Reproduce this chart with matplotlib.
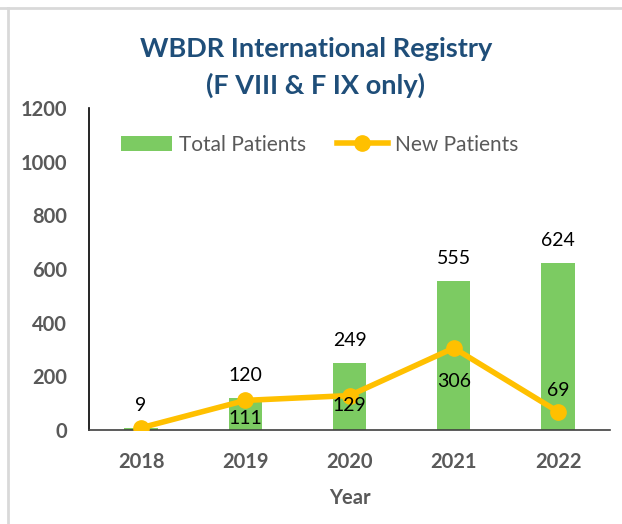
import matplotlib.pyplot as plt
from matplotlib.lines import Line2D

years = ["2018", "2019", "2020", "2021", "2022"]
total_patients = [9, 120, 249, 555, 624]
new_patients = [9, 111, 129, 306, 69]

GREEN = "#7CCB62"
GOLD = "#FFC000"
GRAY = "#595959"

plt.rcParams['font.family'] = ['Lato', 'DejaVu Sans']

fig = plt.figure(figsize=(6.22, 5.24), dpi=100)
ax = fig.add_axes([0.143, 0.179, 0.838, 0.615])

x = list(range(len(years)))
ax.bar(x, total_patients, width=0.32, color=GREEN, label="Total Patients", zorder=2)
ax.plot(x, new_patients, color=GOLD, lw=4, marker="o", ms=11, label="New Patients", zorder=3)

# labels for totals above bars
for xi, v in zip(x, total_patients):
    ax.annotate(str(v), (xi, v), xytext=(0, 10), textcoords="offset points",
                ha="center", va="bottom", fontsize=14, color="black")
# labels for new patients (2018 one sits behind the total label)
label_offsets = [None, -7, -1, -18, 9]
for xi, v, off in zip(x, new_patients, label_offsets):
    if off is None:
        continue
    va = "bottom" if off > 0 else "top"
    ax.annotate(str(v), (xi, v), xytext=(0, off), textcoords="offset points",
                ha="center", va=va, fontsize=14, color="black", zorder=4)

ax.set_xlim(-0.5, 4.5)
ax.set_ylim(0, 1200)
ax.set_yticks(range(0, 1201, 200))
ax.set_xticks(x)
ax.set_xticklabels(years)
ax.tick_params(axis="both", length=0, labelsize=14.5, labelcolor=GRAY)
ax.tick_params(axis="y", pad=16)
ax.tick_params(axis="x", pad=16)
for lab in ax.get_xticklabels() + ax.get_yticklabels():
    lab.set_fontweight("bold")

ax.spines["top"].set_visible(False)
ax.spines["right"].set_visible(False)
ax.spines["left"].set_color("black")
ax.spines["bottom"].set_color("#404040")
ax.spines["left"].set_linewidth(1.2)
ax.spines["bottom"].set_linewidth(1.2)

ax.set_xlabel("Year", fontsize=14.5, fontweight="bold", color=GRAY, labelpad=11)

handles, labels = ax.get_legend_handles_labels()
order = [labels.index("Total Patients"), labels.index("New Patients")]
leg = ax.legend([handles[i] for i in order], [labels[i] for i in order],
                loc="upper center", bbox_to_anchor=(0.443, 0.975), ncol=2, frameon=False,
                fontsize=15, handlelength=2.45, handleheight=0.7, columnspacing=1.45,
                handletextpad=0.35)
for t in leg.get_texts():
    t.set_color(GRAY)

fig.text(0.508, 0.871, "WBDR International Registry\n(F VIII & F IX only)",
         ha="center", va="center", fontsize=19.5, fontweight="bold",
         color="#1F4E79", linespacing=1.55)

# light frame lines
fig.add_artist(Line2D([0, 1], [0.985, 0.985], color="#D9D9D9", lw=2))
fig.add_artist(Line2D([0.013, 0.013], [0, 0.985], color="#D9D9D9", lw=2))

fig.savefig("out.png", dpi=100)
